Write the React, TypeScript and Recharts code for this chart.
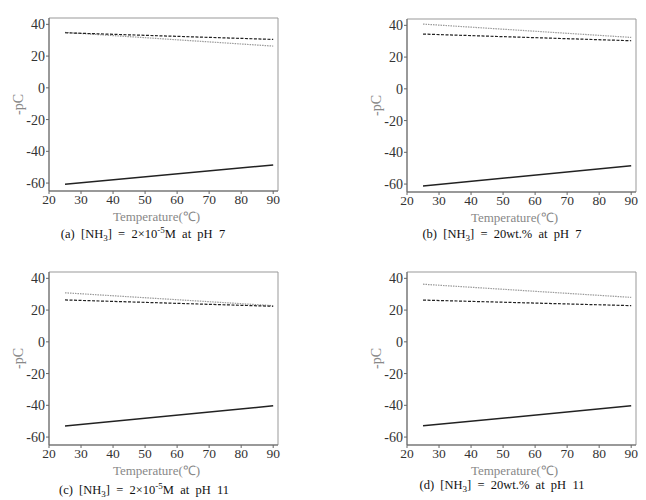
// Four-panel -pC vs temperature figure. Each panel has three straight series:
// solid black, fine-dashed black and light grey dotted.
import { LineChart, Line, XAxis, YAxis, ReferenceArea } from 'recharts';

const temps = [25, 90];
const xTicks = [20, 30, 40, 50, 60, 70, 80, 90];
const yTicks = [-60, -40, -20, 0, 20, 40];

// (a) 2x10^-5 M, pH 7
const aSolid = [-60.8, -48.6];
const aDashed = [34.7, 30.5];
const aDotted = [34.9, 26.3];
// (b) 20wt.%, pH 7
const bSolid = [-61.2, -48.4];
const bDashed = [34.5, 30.3];
const bDotted = [40.8, 32.4];
// (c) 2x10^-5 M, pH 11
const cSolid = [-53.1, -40.3];
const cDashed = [26.4, 22.4];
const cDotted = [30.9, 22.8];
// (d) 20wt.%, pH 11
const dSolid = [-52.9, -40.3];
const dDashed = [26.3, 22.8];
const dDotted = [36.3, 28.0];

const FONT = "'Liberation Serif', 'Times New Roman', Times, serif";
const AXIS = '#666';
const BORDER = '#999';
const TITLE = '#888';

interface PanelProps {
  left: number;
  top: number;
  solid: number[];
  dashed: number[];
  dotted: number[];
}

function Panel({ left, top, solid, dashed, dotted }: PanelProps) {
  const data = temps.map((t, i) => ({
    t,
    solid: solid[i],
    dashed: dashed[i],
    dotted: dotted[i],
  }));

  return (
    <div style={{ position: 'absolute', left, top }}>
      <LineChart
        width={300}
        height={230}
        data={data}
        margin={{ top: 18, right: 22, bottom: 7, left: 0 }}
        style={{ fontFamily: FONT }}
      >
        <ReferenceArea
          x1={20}
          x2={91.5}
          y1={-65}
          y2={44}
          fill="none"
          stroke={BORDER}
          strokeWidth={1}
        />
        <XAxis
          dataKey="t"
          type="number"
          domain={[20, 91.5]}
          ticks={xTicks}
          height={32}
          tickSize={3}
          tickMargin={0}
          stroke={AXIS}
          tick={{ fill: '#333', fontSize: 13.5, fontFamily: FONT }}
          label={{
            value: 'Temperature(℃)',
            position: 'insideBottom',
            offset: 2,
            dx: -7,
            fill: TITLE,
            fontSize: 13,
            fontFamily: FONT,
          }}
        />
        <YAxis
          type="number"
          domain={[-65, 44]}
          ticks={yTicks}
          width={49}
          tickSize={3}
          tickMargin={1}
          stroke={AXIS}
          tick={{ fill: '#333', fontSize: 14, fontFamily: FONT }}
          label={{
            value: '-pC',
            angle: -90,
            position: 'insideLeft',
            offset: 18,
            fill: TITLE,
            fontSize: 14,
            fontFamily: FONT,
            style: { textAnchor: 'middle' },
          }}
        />
        <Line
          dataKey="dotted"
          stroke="#999"
          strokeWidth={1.2}
          strokeDasharray="1.5 1"
          dot={false}
          isAnimationActive={false}
        />
        <Line
          dataKey="dashed"
          stroke="#222"
          strokeWidth={1.2}
          strokeDasharray="3 1.5"
          dot={false}
          isAnimationActive={false}
        />
        <Line
          dataKey="solid"
          stroke="#222"
          strokeWidth={1.5}
          dot={false}
          isAnimationActive={false}
        />
      </LineChart>
    </div>
  );
}

const SUB: React.CSSProperties = { fontSize: 9, position: 'relative', top: 3, verticalAlign: 'baseline' };
const SUP: React.CSSProperties = { fontSize: 9, position: 'relative', top: -5, verticalAlign: 'baseline' };

function Caption({ cx, top, children }: { cx: number; top: number; children: React.ReactNode }) {
  return (
    <div
      style={{
        position: 'absolute',
        left: cx - 150,
        top,
        width: 300,
        height: 16,
        textAlign: 'center',
        fontFamily: FONT,
        fontSize: 12.5,
        lineHeight: '16px',
        color: '#111',
        whiteSpace: 'pre',
      }}
    >
      {children}
    </div>
  );
}

export default function App() {
  return (
    <div
      style={{
        position: 'absolute',
        left: 0,
        top: 0,
        width: 646,
        height: 500,
        background: '#fff',
        overflow: 'hidden',
      }}
    >
      <Panel left={0} top={0} solid={aSolid} dashed={aDashed} dotted={aDotted} />
      <Panel left={358} top={1} solid={bSolid} dashed={bDashed} dotted={bDotted} />
      <Panel left={0} top={254} solid={cSolid} dashed={cDashed} dotted={cDotted} />
      <Panel left={358} top={254} solid={dSolid} dashed={dDashed} dotted={dDotted} />

      <Caption cx={143} top={226}>
        (a)  [NH<span style={SUB}>3</span>]  =  2×10<span style={SUP}>-5</span>M  at  pH  7
      </Caption>
      <Caption cx={502} top={226}>
        (b)  [NH<span style={SUB}>3</span>]  =  20wt.%  at  pH  7
      </Caption>
      <Caption cx={144} top={482}>
        (c)  [NH<span style={SUB}>3</span>]  =  2×10<span style={SUP}>-5</span>M  at  pH  11
      </Caption>
      <Caption cx={502} top={477}>
        (d)  [NH<span style={SUB}>3</span>]  =  20wt.%  at  pH  11
      </Caption>
    </div>
  );
}
